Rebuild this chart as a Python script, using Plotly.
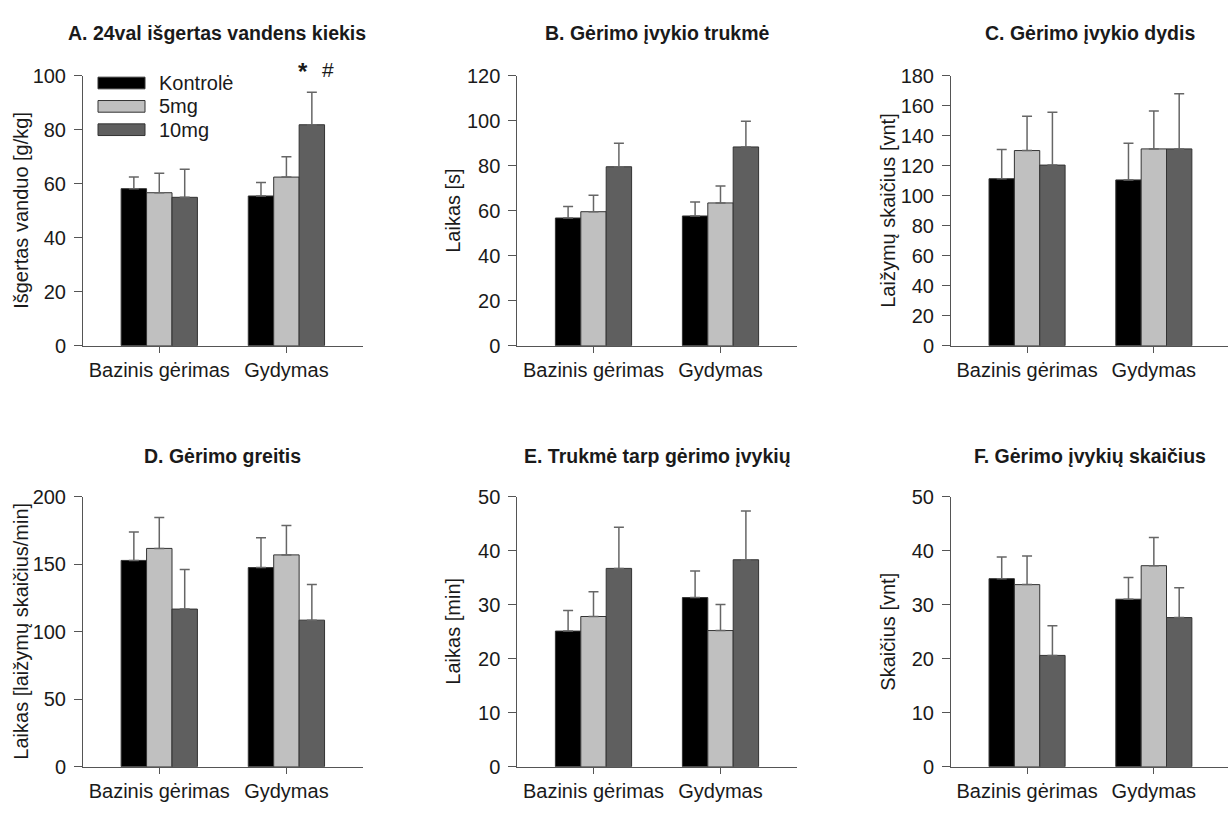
import plotly.graph_objects as go

# ---- data ---------------------------------------------------------------
categories = ["Bazinis gėrimas", "Gydymas"]
series_names = ["Kontrolė", "5mg", "10mg"]
series_colors = ["#000000", "#c0c0c0", "#5f5f5f"]

# A. 24val išgertas vandens kiekis
a_kontrole = [58.2, 55.5]
a_5mg = [56.7, 62.5]
a_10mg = [55.0, 81.9]
a_kontrole_err = [4.3, 5.0]
a_5mg_err = [7.2, 7.5]
a_10mg_err = [10.4, 12.0]

# B. Gėrimo įvykio trukmė
b_kontrole = [56.8, 57.7]
b_5mg = [59.6, 63.5]
b_10mg = [79.6, 88.4]
b_kontrole_err = [5.1, 6.2]
b_5mg_err = [7.3, 7.5]
b_10mg_err = [10.4, 11.4]

# C. Gėrimo įvykio dydis
c_kontrole = [111.4, 110.6]
c_5mg = [130.2, 131.3]
c_10mg = [120.5, 131.3]
c_kontrole_err = [19.5, 24.4]
c_5mg_err = [22.8, 25.3]
c_10mg_err = [35.3, 36.8]

# D. Gėrimo greitis
d_kontrole = [152.7, 147.4]
d_5mg = [161.6, 156.8]
d_10mg = [116.7, 108.5]
d_kontrole_err = [21.1, 22.1]
d_5mg_err = [22.8, 21.8]
d_10mg_err = [29.3, 26.4]

# E. Trukmė tarp gėrimo įvykių
e_kontrole = [25.1, 31.3]
e_5mg = [27.8, 25.2]
e_10mg = [36.7, 38.3]
e_kontrole_err = [3.8, 4.9]
e_5mg_err = [4.6, 4.8]
e_10mg_err = [7.6, 9.0]

# F. Gėrimo įvykių skaičius
f_kontrole = [34.8, 31.0]
f_5mg = [33.7, 37.2]
f_10mg = [20.6, 27.6]
f_kontrole_err = [4.0, 4.0]
f_5mg_err = [5.3, 5.2]
f_10mg_err = [5.5, 5.5]

panel_titles = [
    "A. 24val išgertas vandens kiekis",
    "B. Gėrimo įvykio trukmė",
    "C. Gėrimo įvykio dydis",
    "D. Gėrimo greitis",
    "E. Trukmė tarp gėrimo įvykių",
    "F. Gėrimo įvykių skaičius",
]
y_titles = [
    "Išgertas vanduo [g/kg]",
    "Laikas [s]",
    "Laižymų skaičius [vnt]",
    "Laikas [laižymų skaičius/min]",
    "Laikas [min]",
    "Skaičius [vnt]",
]
y_max = [100, 120, 180, 200, 50, 50]
y_step = [20, 20, 20, 50, 10, 10]

panel_values = [
    [a_kontrole, a_5mg, a_10mg],
    [b_kontrole, b_5mg, b_10mg],
    [c_kontrole, c_5mg, c_10mg],
    [d_kontrole, d_5mg, d_10mg],
    [e_kontrole, e_5mg, e_10mg],
    [f_kontrole, f_5mg, f_10mg],
]
panel_errors = [
    [a_kontrole_err, a_5mg_err, a_10mg_err],
    [b_kontrole_err, b_5mg_err, b_10mg_err],
    [c_kontrole_err, c_5mg_err, c_10mg_err],
    [d_kontrole_err, d_5mg_err, d_10mg_err],
    [e_kontrole_err, e_5mg_err, e_10mg_err],
    [f_kontrole_err, f_5mg_err, f_10mg_err],
]

# ---- layout geometry (pixels on a 1228 x 815 page) -----------------------
W, H = 1228, 815
FONT = "Arial, Liberation Sans, sans-serif"
TEXT = "#1a1a1a"
AXIS = "#555555"

col_px = [(83, 362.7), (517.3, 796.7), (951, 1228)]
row_px = [(66.7, 344), (499, 776.7)]
col_ranges = [[-0.6, 1.6], [-0.6, 1.6], [-0.6, 1.585]]
ytitle_x_px = [21, 453, 888]
title_y_px = [23, 457]


def px_x(p):
    return p / W


def px_y(p):
    return 1 - p / H


fig = go.Figure()
layout = dict(
    width=W,
    height=H,
    margin=dict(l=0, r=0, t=0, b=0),
    paper_bgcolor="white",
    plot_bgcolor="white",
    barmode="group",
    bargap=0.4,
    bargroupgap=0,
    showlegend=False,
    font=dict(family=FONT, color=TEXT, size=20),
)
annotations = []
shapes = []

for i in range(6):
    r, c = divmod(i, 3)
    suffix = "" if i == 0 else str(i + 1)
    xname, yname = "x" + suffix, "y" + suffix
    for s in range(3):
        fig.add_trace(go.Bar(
            x=categories,
            y=panel_values[i][s],
            name=series_names[s],
            marker=dict(color=series_colors[s], line=dict(color="#333333", width=1)),
            error_y=dict(type="data", symmetric=False,
                         array=panel_errors[i][s], arrayminus=[0, 0],
                         color="#666666", thickness=1.5, width=5),
            xaxis=xname, yaxis=yname,
            offsetgroup=str(s),
        ))
    x0, x1 = col_px[c]
    ytop, ybot = row_px[r]
    layout["xaxis" + suffix] = dict(
        domain=[px_x(x0), min(px_x(x1), 1.0)],
        anchor=yname,
        type="category",
        range=col_ranges[c],
        showline=True, linecolor=AXIS, linewidth=1,
        ticks="outside", ticklen=6, tickcolor=AXIS, tickwidth=1,
        showgrid=False, zeroline=False,
        tickfont=dict(size=20, color=TEXT, family=FONT),
        fixedrange=True,
    )
    layout["yaxis" + suffix] = dict(
        domain=[px_y(ybot), px_y(ytop)],
        anchor=xname,
        range=[0, y_max[i]],
        dtick=y_step[i], tick0=0,
        showline=True, linecolor=AXIS, linewidth=1,
        ticks="outside", ticklen=8, tickcolor=AXIS, tickwidth=1,
        ticklabelstandoff=4,
        showgrid=False, zeroline=False,
        tickfont=dict(size=20, color=TEXT, family=FONT),
        fixedrange=True,
    )
    # panel title
    annotations.append(dict(
        text="<b>" + panel_titles[i] + "</b>",
        x=px_x((x0 + min(x1, 1230)) / 2 + (-6 if i == 0 else 0)),
        y=px_y(title_y_px[r]),
        xref="paper", yref="paper", xanchor="center", yanchor="middle",
        showarrow=False, font=dict(size=19.5, color=TEXT, family=FONT),
    ))
    # y-axis title
    annotations.append(dict(
        text=y_titles[i], textangle=-90,
        x=px_x(ytitle_x_px[c]), y=px_y((ytop + ybot) / 2),
        xref="paper", yref="paper", xanchor="center", yanchor="middle",
        showarrow=False, font=dict(size=20, color=TEXT, family=FONT),
    ))

# significance marks over the 10mg treatment bar in panel A
annotations.append(dict(text="<b>*</b>", x=1.13, y=px_y(62), xref="x", yref="paper",
                        xanchor="center", yanchor="middle",
                        showarrow=False, font=dict(size=24, color=TEXT, family=FONT)))
annotations.append(dict(text="#", x=1.33, y=px_y(60), xref="x", yref="paper",
                        xanchor="center", yanchor="middle",
                        showarrow=False, font=dict(size=21, color=TEXT, family=FONT)))

# legend drawn inside panel A
legend_rows_px = [(68, 80), (92, 104), (116, 128)]
for s in range(3):
    t, b = legend_rows_px[s]
    shapes.append(dict(
        type="rect", xref="paper", yref="paper",
        x0=px_x(98), x1=px_x(145), y0=px_y(b), y1=px_y(t),
        fillcolor=series_colors[s], line=dict(color="#333333", width=1),
    ))
    annotations.append(dict(
        text=series_names[s], x=px_x(157), y=px_y((t + b) / 2),
        xref="paper", yref="paper", xanchor="left", yanchor="middle",
        showarrow=False, font=dict(size=20, color=TEXT, family=FONT),
    ))

layout["annotations"] = annotations
layout["shapes"] = shapes
fig.update_layout(**layout)
fig.write_html("out.html")
